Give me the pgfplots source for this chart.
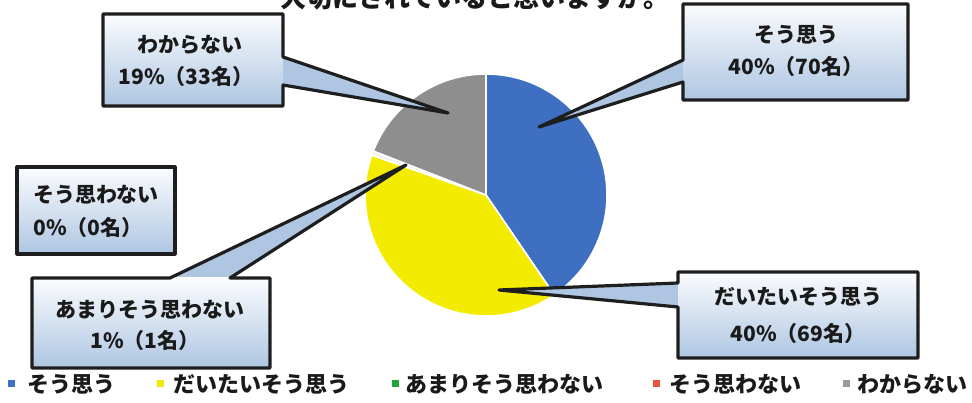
\documentclass[border=0pt]{standalone}
\usepackage{pgfplots}
\pgfplotsset{compat=1.18}
\usepackage{pgfplotstable}
\usepackage{fontspec}
\setmainfont{Noto Sans CJK JP}[BoldFont={Noto Sans CJK JP Black}]

\definecolor{sblue}{HTML}{3E6FC1}
\definecolor{syellow}{HTML}{F4EC00}
\definecolor{sgreen}{HTML}{EEF5EE}
\definecolor{sgray}{HTML}{8E8E8E}
\definecolor{lblue}{HTML}{3B72C4}
\definecolor{lyellow}{HTML}{F2EA00}
\definecolor{lgreen}{HTML}{22A63A}
\definecolor{lred}{HTML}{E6553A}
\definecolor{lgray}{HTML}{9A9A9A}
\definecolor{boxtop}{HTML}{FBFCFE}
\definecolor{boxbot}{HTML}{AEC6E2}
\definecolor{edge}{HTML}{1E1E1E}
\definecolor{ink}{HTML}{1A1A1A}

% counts per answer
\pgfplotstableread{
label count
そう思う 70
だいたいそう思う 69
あまりそう思わない 1
そう思わない 0
わからない 33
}\piedata

\pgfplotstablegetelem{0}{count}\of\piedata\let\nA\pgfplotsretval
\pgfplotstablegetelem{1}{count}\of\piedata\let\nB\pgfplotsretval
\pgfplotstablegetelem{2}{count}\of\piedata\let\nC\pgfplotsretval
\pgfplotstablegetelem{3}{count}\of\piedata\let\nD\pgfplotsretval
\pgfplotstablegetelem{4}{count}\of\piedata\let\nE\pgfplotsretval
\pgfmathsetmacro\total{\nA+\nB+\nC+\nD+\nE}
\pgfmathsetmacro\aA{90}
\pgfmathsetmacro\aB{\aA-\nA/\total*360}
\pgfmathsetmacro\aC{\aB-\nB/\total*360}
\pgfmathsetmacro\aD{\aC-\nC/\total*360}
\pgfmathsetmacro\aE{\aD-\nD/\total*360}
\pgfmathsetmacro\aF{\aE-\nE/\total*360}

\tikzset{
  lbl/.style={font=\bfseries\fontsize{21}{24}\selectfont, text=ink, inner sep=0pt},
  leg/.style={font=\bfseries\fontsize{22}{24}\selectfont, text=ink, inner sep=0pt, anchor=west},
  edgeline/.style={draw=edge, line width=3.2pt, line join=round},
  slice/.style={draw=white, line width=1.6pt, line join=round},
}

\begin{document}
\begin{tikzpicture}
\begin{axis}[
    hide axis,
    x=1pt, y=1pt,
    xmin=0, xmax=972, ymin=0, ymax=403,
    y dir=reverse,
    clip=false,
]
\coordinate (bl) at (axis cs:0,403);
\coordinate (tr) at (axis cs:972,0);

% title, cut off at the top edge as in the scan
\begin{scope}
\clip (axis cs:0,0) rectangle (axis cs:972,403);
\node[font=\bfseries\fontsize{26}{28}\selectfont, text=ink, anchor=base, inner sep=0pt]
  at (axis cs:475,8) {大切にされていると思いますか。};
\end{scope}

% pie
\filldraw[slice, fill=sblue] (axis cs:486,195) -- +(\aA:121pt) arc[start angle=\aA, end angle=\aB, radius=121pt] -- cycle;
\filldraw[slice, fill=syellow] (axis cs:486,195) -- +(\aB:121pt) arc[start angle=\aB, end angle=\aC, radius=121pt] -- cycle;
\filldraw[slice, fill=sgreen] (axis cs:486,195) -- +(\aC:121pt) arc[start angle=\aC, end angle=\aD, radius=121pt] -- cycle;
\filldraw[slice, fill=sgray] (axis cs:486,195) -- +(\aE:121pt) arc[start angle=\aE, end angle=\aF, radius=121pt] -- cycle;

% callout: わからない
\fill[boxbot] (axis cs:283,57) -- (axis cs:448,113) -- (axis cs:283,85) -- cycle;
\shade[top color=boxtop, bottom color=boxbot] (axis cs:103,14) rectangle (axis cs:283,106);
\draw[edgeline] (axis cs:103,14) -- (axis cs:283,14) -- (axis cs:283,57) -- (axis cs:448,113) -- (axis cs:283,85) -- (axis cs:283,106) -- (axis cs:103,106) -- cycle;
\node[lbl] at (axis cs:190,45) {わからない};
\node[lbl] at (axis cs:186,77) {19\%（33名）};

% callout: そう思う
\fill[boxbot] (axis cs:683,60) -- (axis cs:539,127) -- (axis cs:683,82) -- cycle;
\shade[top color=boxtop, bottom color=boxbot] (axis cs:683,4) rectangle (axis cs:908,100);
\draw[edgeline] (axis cs:683,4) -- (axis cs:908,4) -- (axis cs:908,100) -- (axis cs:683,100) -- (axis cs:683,82) -- (axis cs:539,127) -- (axis cs:683,60) -- cycle;
\node[lbl] at (axis cs:796,35) {そう思う};
\node[lbl] at (axis cs:796,67) {40\%（70名）};

% box: そう思わない (no pointer)
\shade[top color=boxtop, bottom color=boxbot] (axis cs:17,167) rectangle (axis cs:175,254);
\draw[edgeline] (axis cs:17,167) rectangle (axis cs:175,254);
\node[lbl] at (axis cs:96,195) {そう思わない};
\node[lbl] at (axis cs:88,228) {0\%（0名）};

% callout: あまりそう思わない
\fill[boxbot] (axis cs:170,278) -- (axis cs:406,165) -- (axis cs:230,278) -- cycle;
\shade[top color=boxtop, bottom color=boxbot] (axis cs:32,278) rectangle (axis cs:270,368);
\draw[edgeline] (axis cs:32,278) -- (axis cs:170,278) -- (axis cs:406,165) -- (axis cs:230,278) -- (axis cs:270,278) -- (axis cs:270,368) -- (axis cs:32,368) -- cycle;
\node[lbl] at (axis cs:150,310) {あまりそう思わない};
\node[lbl] at (axis cs:145,341) {1\%（1名）};

% callout: だいたいそう思う
\fill[boxbot] (axis cs:678,283) -- (axis cs:499,290) -- (axis cs:678,307) -- cycle;
\shade[top color=boxtop, bottom color=boxbot] (axis cs:678,272) rectangle (axis cs:918,358);
\draw[edgeline] (axis cs:678,272) -- (axis cs:918,272) -- (axis cs:918,358) -- (axis cs:678,358) -- (axis cs:678,307) -- (axis cs:499,290) -- (axis cs:678,283) -- cycle;
\node[lbl] at (axis cs:798,297) {だいたいそう思う};
\node[lbl] at (axis cs:798,334) {40\%（69名）};

% legend
\fill[lblue] (axis cs:8,380) rectangle (axis cs:15,387);
\node[leg] at (axis cs:27,384) {そう思う};
\fill[lyellow] (axis cs:157,380) rectangle (axis cs:164,387);
\node[leg] at (axis cs:173,384) {だいたいそう思う};
\fill[lgreen] (axis cs:392,380) rectangle (axis cs:399,387);
\node[leg] at (axis cs:405,384) {あまりそう思わない};
\fill[lred] (axis cs:653,380) rectangle (axis cs:660,387);
\node[leg] at (axis cs:669,384) {そう思わない};
\fill[lgray] (axis cs:843,380) rectangle (axis cs:850,387);
\node[leg] at (axis cs:857,384) {わからない};
\end{axis}
\pgfresetboundingbox
\useasboundingbox (bl) rectangle (tr);
\end{tikzpicture}
\end{document}
